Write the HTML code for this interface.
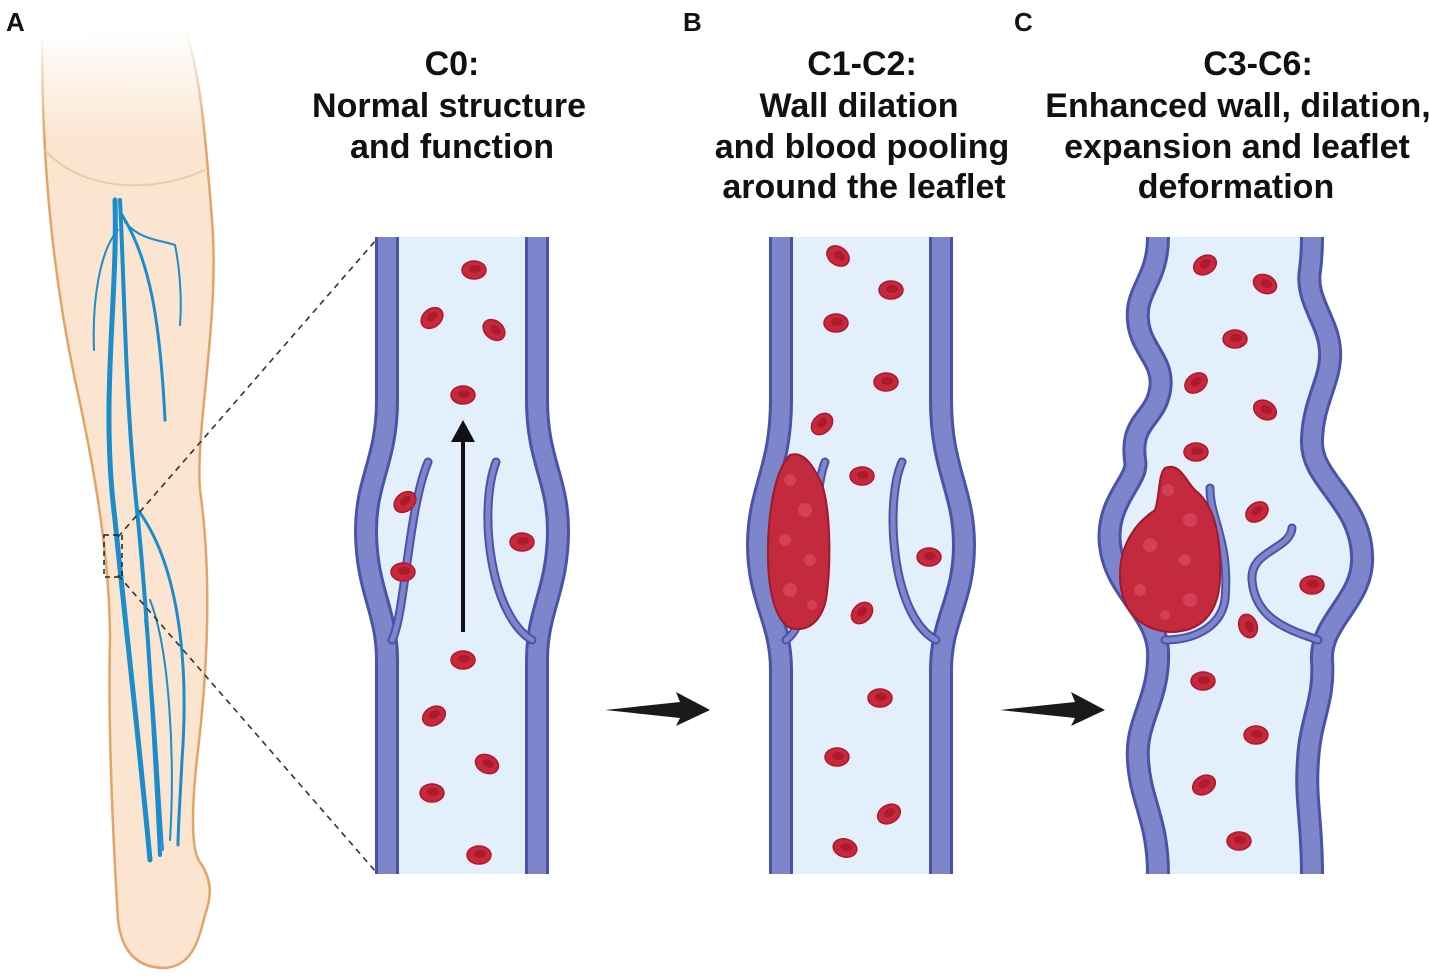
<!DOCTYPE html>
<html><head><meta charset="utf-8"><style>
html,body{margin:0;padding:0;background:#fff}
svg{display:block}
text{font-family:"Liberation Sans",sans-serif;font-weight:bold;fill:#111}
</style></head><body>
<svg width="1429" height="979" viewBox="0 0 1429 979" xmlns="http://www.w3.org/2000/svg">
<defs>
<g id="rbc"><ellipse rx="12" ry="9" fill="#c9283c" stroke="#a81c2e" stroke-width="1.5"/><ellipse cx="1" cy="-1" rx="6" ry="4" fill="#a81c2e"/></g>
<linearGradient id="lf" x1="0" y1="30" x2="0" y2="140" gradientUnits="userSpaceOnUse"><stop offset="0" stop-color="#fbe5d0" stop-opacity="0"/><stop offset="1" stop-color="#fbe5d0"/></linearGradient>
<linearGradient id="ls" x1="0" y1="30" x2="0" y2="140" gradientUnits="userSpaceOnUse"><stop offset="0" stop-color="#e3a469" stop-opacity="0"/><stop offset="1" stop-color="#e3a469"/></linearGradient>
</defs>
<!-- labels -->
<text x="6" y="31" font-size="26">A</text>
<text x="683" y="31" font-size="26">B</text>
<text x="1014" y="31" font-size="26">C</text>
<g font-size="34" text-anchor="middle">
<text x="452" y="75">C0:</text><text x="449" y="117">Normal structure</text><text x="452" y="158">and function</text>
<text x="862" y="75">C1-C2:</text><text x="859" y="117">Wall dilation</text><text x="862" y="158">and blood pooling</text><text x="864" y="198">around the leaflet</text>
<text x="1258" y="75">C3-C6:</text><text x="1238" y="117">Enhanced wall, dilation,</text><text x="1237" y="158">expansion and leaflet</text><text x="1236" y="198">deformation</text>
</g>
<!-- leg -->
<path d="M42,40 C42,150 50,260 75,380 C95,470 110,560 110,640 C108,720 112,820 118,920 C122,955 140,968 165,968 C190,966 198,945 205,915 C212,895 212,880 200,862 C190,850 192,800 198,750 C210,650 210,560 200,490 C195,430 220,320 212,220 C205,130 200,70 185,30 Z" fill="url(#lf)"/>
<path d="M42,40 C42,150 50,260 75,380 C95,470 110,560 110,640 C108,720 112,820 118,920 C122,955 140,968 165,968 C190,966 198,945 205,915 C212,895 212,880 200,862 C190,850 192,800 198,750 C210,650 210,560 200,490 C195,430 220,320 212,220 C205,130 200,70 185,30" fill="none" stroke="url(#ls)" stroke-width="2.5"/>
<path d="M45,150 C80,190 150,195 205,170" fill="none" stroke="#f0c9a6" stroke-width="2"/>
<g fill="none" stroke="#1b8ccc" stroke-linecap="round">
<path d="M115,200 C118,300 100,400 115,520 C125,620 140,750 150,860" stroke-width="5"/>
<path d="M120,200 C125,300 125,400 138,520 C148,620 155,750 160,855" stroke-width="4"/>
<path d="M122,215 C150,260 160,320 165,420" stroke-width="3"/>
<path d="M125,222 C140,240 160,240 175,245 C180,270 182,300 180,325" stroke-width="2"/>
<path d="M118,230 C100,250 92,300 94,350" stroke-width="2"/>
<path d="M138,510 C175,560 190,650 182,760 C180,800 178,830 178,845" stroke-width="3"/>
<path d="M145,620 C155,700 158,780 163,850" stroke-width="2"/>
<path d="M150,600 C170,650 175,760 170,840" stroke-width="2"/>
</g>
<rect x="104" y="535" width="18" height="42" fill="none" stroke="#222" stroke-width="1.5" stroke-dasharray="5,4"/>
<g stroke="#333" stroke-width="1.6" stroke-dasharray="6,5"><line x1="118" y1="537" x2="376" y2="240"/><line x1="118" y1="575" x2="376" y2="872"/></g>
<!-- vein 1 -->
<g>
<path d="M387,237 L387,400 C387,460 366,480 366,530 C366,590 387,610 387,660 L387,874 L537,874 L537,660 C537,610 558,590 558,530 C558,480 537,460 537,400 L537,237 Z" fill="#e4effc"/>
<g fill="none" stroke-linecap="butt">
<g stroke="#4b53a8" stroke-width="24"><path d="M387,237 L387,400 C387,460 366,480 366,530 C366,590 387,610 387,660 L387,874"/><path d="M537,237 L537,400 C537,460 558,480 558,530 C558,590 537,610 537,660 L537,874"/></g>
<g stroke="#7d85cb" stroke-width="18"><path d="M387,237 L387,400 C387,460 366,480 366,530 C366,590 387,610 387,660 L387,874"/><path d="M537,237 L537,400 C537,460 558,480 558,530 C558,590 537,610 537,660 L537,874"/></g>
<g stroke="#4b53a8" stroke-width="9" stroke-linecap="round"><path d="M428,462 C408,510 405,615 392,640"/><path d="M496,462 C478,510 490,615 532,640"/></g>
<g stroke="#7d85cb" stroke-width="5" stroke-linecap="round"><path d="M428,462 C408,510 405,615 392,640"/><path d="M496,462 C478,510 490,615 532,640"/></g>
</g>
<line x1="463" y1="632" x2="463" y2="440" stroke="#111" stroke-width="4"/>
<polygon points="451,442 463,420 475,442" fill="#111"/>
</g>
<!-- vein 2 -->
<g>
<path d="M781,237 L781,400 C781,470 758,490 758,545 C758,600 781,620 781,670 L781,874 L941,874 L941,670 C941,620 964,600 964,545 C964,490 941,470 941,400 L941,237 Z" fill="#e4effc"/>
<g fill="none">
<g stroke="#4b53a8" stroke-width="24"><path d="M781,237 L781,400 C781,470 758,490 758,545 C758,600 781,620 781,670 L781,874"/><path d="M941,237 L941,400 C941,470 964,490 964,545 C964,600 941,620 941,670 L941,874"/></g>
<g stroke="#7d85cb" stroke-width="18"><path d="M781,237 L781,400 C781,470 758,490 758,545 C758,600 781,620 781,670 L781,874"/><path d="M941,237 L941,400 C941,470 964,490 964,545 C964,600 941,620 941,670 L941,874"/></g>
<g stroke="#4b53a8" stroke-width="9" stroke-linecap="round"><path d="M825,462 C810,500 820,615 786,640"/><path d="M902,462 C885,500 890,615 936,640"/></g>
<g stroke="#7d85cb" stroke-width="5" stroke-linecap="round"><path d="M825,462 C810,500 820,615 786,640"/><path d="M902,462 C885,500 890,615 936,640"/></g>
</g>
<path d="M790,455 C805,450 815,470 820,480 C830,500 832,560 826,600 C820,625 805,632 790,628 C775,620 768,590 768,555 C768,510 775,470 790,455 Z" fill="#c42a3d" stroke="#9e1a2c" stroke-width="2"/>
<g fill="#e0506a" opacity="0.6"><circle cx="790" cy="480" r="6"/><circle cx="805" cy="510" r="7"/><circle cx="785" cy="540" r="6"/><circle cx="810" cy="560" r="6"/><circle cx="790" cy="590" r="7"/><circle cx="812" cy="605" r="5"/></g>
</g>
<!-- vein 3 -->
<g>
<path d="M1158,237 C1158,280 1135,290 1138,320 C1140,350 1165,360 1160,390 C1155,420 1130,420 1135,460 C1140,480 1105,500 1110,545 C1115,590 1155,610 1158,650 C1160,700 1135,720 1138,760 C1140,800 1158,820 1158,874 L1312,874 C1312,820 1305,800 1308,760 C1310,720 1325,700 1322,660 C1320,620 1365,600 1362,555 C1360,500 1310,480 1312,440 C1313,400 1332,380 1330,350 C1328,320 1305,300 1310,270 C1312,255 1312,245 1312,237 Z" fill="#e4effc"/>
<g fill="none">
<g stroke="#4b53a8" stroke-width="24"><path id="l3" d="M1158,237 C1158,280 1135,290 1138,320 C1140,350 1165,360 1160,390 C1155,420 1130,420 1135,460 C1140,480 1105,500 1110,545 C1115,590 1155,610 1158,650 C1160,700 1135,720 1138,760 C1140,800 1158,820 1158,874"/><path id="r3" d="M1312,237 C1312,245 1312,255 1310,270 C1305,300 1328,320 1330,350 C1332,380 1313,400 1312,440 C1310,480 1360,500 1362,555 C1365,600 1320,620 1322,660 C1325,700 1310,720 1308,760 C1305,800 1312,820 1312,874"/></g>
<g stroke="#7d85cb" stroke-width="18"><use href="#l3"/><use href="#r3"/></g>
<g stroke="#4b53a8" stroke-width="9" stroke-linecap="round"><path d="M1210,488 C1210,520 1230,540 1225,600 C1220,630 1190,640 1165,640"/><path d="M1292,528 C1290,550 1250,550 1252,580 C1255,620 1290,630 1318,640"/></g>
<g stroke="#7d85cb" stroke-width="5" stroke-linecap="round"><path d="M1210,488 C1210,520 1230,540 1225,600 C1220,630 1190,640 1165,640"/><path d="M1292,528 C1290,550 1250,550 1252,580 C1255,620 1290,630 1318,640"/></g>
</g>
<path d="M1165,468 C1180,462 1185,480 1195,490 C1215,505 1222,540 1220,580 C1218,615 1200,632 1170,632 C1140,630 1120,610 1120,575 C1120,540 1140,520 1155,510 C1160,495 1158,475 1165,468 Z" fill="#c42a3d" stroke="#9e1a2c" stroke-width="2"/>
<g fill="#e0506a" opacity="0.6"><circle cx="1168" cy="490" r="6"/><circle cx="1190" cy="520" r="7"/><circle cx="1150" cy="545" r="7"/><circle cx="1185" cy="560" r="6"/><circle cx="1140" cy="590" r="6"/><circle cx="1190" cy="600" r="7"/><circle cx="1165" cy="615" r="5"/></g>
</g>
<!-- RBCs -->
<use href="#rbc" transform="translate(474,270)"/>
<use href="#rbc" transform="translate(432,318) rotate(-40)"/>
<use href="#rbc" transform="translate(494,330) rotate(40)"/>
<use href="#rbc" transform="translate(463,395)"/>
<use href="#rbc" transform="translate(405,502) rotate(-40)"/>
<use href="#rbc" transform="translate(403,572)"/>
<use href="#rbc" transform="translate(522,542)"/>
<use href="#rbc" transform="translate(463,660)"/>
<use href="#rbc" transform="translate(434,716) rotate(-30)"/>
<use href="#rbc" transform="translate(487,764) rotate(25)"/>
<use href="#rbc" transform="translate(432,793)"/>
<use href="#rbc" transform="translate(479,855)"/>
<use href="#rbc" transform="translate(838,256) rotate(35)"/>
<use href="#rbc" transform="translate(891,290)"/>
<use href="#rbc" transform="translate(836,323)"/>
<use href="#rbc" transform="translate(886,382)"/>
<use href="#rbc" transform="translate(822,424) rotate(-45)"/>
<use href="#rbc" transform="translate(862,476)"/>
<use href="#rbc" transform="translate(929,557)"/>
<use href="#rbc" transform="translate(862,613) rotate(-45)"/>
<use href="#rbc" transform="translate(880,698)"/>
<use href="#rbc" transform="translate(837,757)"/>
<use href="#rbc" transform="translate(889,814) rotate(-30)"/>
<use href="#rbc" transform="translate(845,848) rotate(15)"/>
<use href="#rbc" transform="translate(1205,265) rotate(-30)"/>
<use href="#rbc" transform="translate(1265,284) rotate(25)"/>
<use href="#rbc" transform="translate(1235,339)"/>
<use href="#rbc" transform="translate(1196,383) rotate(-35)"/>
<use href="#rbc" transform="translate(1265,410) rotate(30)"/>
<use href="#rbc" transform="translate(1196,452)"/>
<use href="#rbc" transform="translate(1257,512) rotate(-35)"/>
<use href="#rbc" transform="translate(1312,585)"/>
<use href="#rbc" transform="translate(1248,626) rotate(70)"/>
<use href="#rbc" transform="translate(1203,681)"/>
<use href="#rbc" transform="translate(1256,735)"/>
<use href="#rbc" transform="translate(1204,785) rotate(-30)"/>
<use href="#rbc" transform="translate(1239,841)"/>
<!-- arrows -->
<polygon points="605,710 680,702 676,692 710,710 676,726 680,718" fill="#1a1a1a"/>
<polygon points="1000,710 1075,702 1071,692 1105,710 1071,726 1075,718" fill="#1a1a1a"/>
</svg>
</body></html>
